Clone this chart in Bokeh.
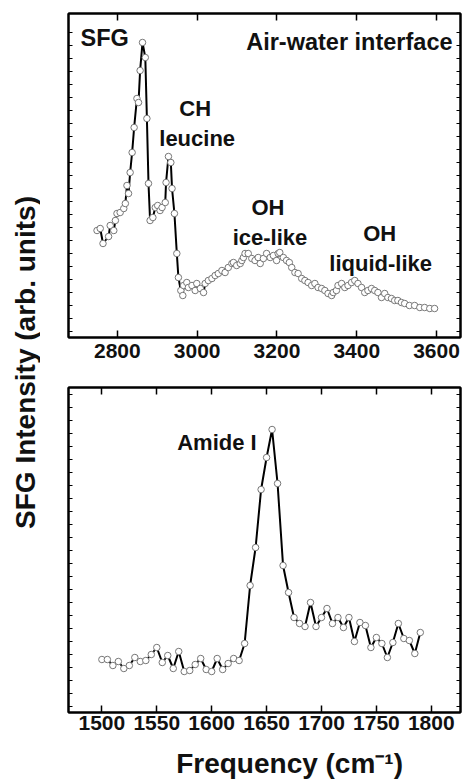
import math
from bokeh.plotting import figure
from bokeh.layouts import row, column
from bokeh.models import Range1d, LinearAxis, FixedTicker
from bokeh.core.properties import value
from bokeh.embed import file_html
from bokeh.resources import INLINE

FONT = "Liberation Sans"

# ---------------- data ----------------
top_freq = [2749, 2757, 2764, 2778, 2782, 2791, 2795, 2799, 2807, 2816, 2820, 2824, 2828,
            2832, 2837, 2842, 2849, 2853, 2857, 2863, 2870, 2874, 2878, 2882, 2889, 2895,
            2901, 2907, 2912, 2920, 2922, 2928, 2934, 2937, 2943, 2949, 2953, 2959, 2964,
            2966, 2974, 2978, 2987, 2995, 2999, 3008, 3016, 3020, 3028, 3037, 3045, 3053,
            3062, 3070, 3078, 3087, 3091, 3099, 3108, 3112, 3116, 3120, 3128, 3137, 3145,
            3153, 3158, 3166, 3174, 3183, 3191, 3199, 3203, 3207, 3216, 3224, 3231, 3237,
            3245, 3253, 3262, 3270, 3278, 3287, 3295, 3303, 3312, 3320, 3328, 3337, 3341,
            3349, 3353, 3362, 3370, 3378, 3387, 3395, 3403, 3412, 3420, 3428, 3437, 3445,
            3453, 3462, 3470, 3478, 3487, 3495, 3503, 3512, 3520, 3532, 3545, 3558, 3570,
            3583, 3595]
top_int = [107, 109, 94, 101, 112, 107, 117, 124, 125, 129, 134, 152, 144,
           165, 185, 210, 239, 235, 267, 295, 280, 219, 154, 117, 120, 130,
           132, 127, 130, 135, 155, 181, 175, 149, 124, 84, 60, 47, 42,
           52, 55, 50, 52, 47, 54, 49, 45, 54, 57, 59, 62, 64,
           67, 65, 70, 74, 75, 72, 74, 77, 80, 84, 84, 79, 77,
           80, 74, 79, 84, 80, 82, 77, 84, 85, 80, 77, 75, 70,
           65, 64, 59, 57, 55, 52, 54, 50, 49, 47, 44, 42, 45,
           47, 52, 54, 50, 52, 55, 57, 54, 50, 45, 47, 49, 47,
           45, 40, 44, 40, 39, 37, 37, 35, 34, 32, 32, 30, 30,
           29, 29]
top_ticks = [2800, 3000, 3200, 3400, 3600]

bot_freq = [1500, 1505, 1510, 1515, 1520, 1525, 1530, 1535, 1540, 1545, 1550, 1555,
            1560, 1565, 1570, 1575, 1580, 1585, 1590, 1595, 1600, 1605, 1610, 1615,
            1620, 1625, 1630, 1635, 1640, 1645, 1650, 1655, 1660, 1665, 1670, 1675,
            1680, 1685, 1690, 1695, 1700, 1705, 1710, 1715, 1720, 1725, 1730, 1735,
            1740, 1745, 1750, 1755, 1760, 1765, 1770, 1775, 1780, 1785, 1790]
bot_int = [53, 53, 47, 51, 44, 47, 55, 51, 52, 58, 65, 50,
           57, 44, 61, 41, 42, 48, 54, 43, 41, 54, 43, 49,
           54, 52, 69, 127, 165, 223, 255, 283, 229, 147, 120, 95,
           89, 86, 110, 86, 95, 104, 89, 95, 85, 95, 71, 90,
           87, 65, 75, 69, 55, 70, 89, 74, 72, 59, 80]
bot_ticks = [1500, 1550, 1600, 1650, 1700, 1750, 1800]

y_label = "SFG Intensity (arb. units)"
x_label = "Frequency (cm\u207b\u00b9)"


def style_x(ax, labels=True):
    ax.axis_line_width = 2
    ax.axis_line_color = "black"
    ax.major_tick_in = 7
    ax.major_tick_out = 0
    ax.major_tick_line_width = 1.5
    ax.minor_tick_in = 0
    ax.minor_tick_out = 0
    if labels:
        ax.major_label_text_font = FONT
        ax.major_label_text_font_style = "bold"
        ax.major_label_text_color = "#111111"
        ax.major_label_text_font_size = "21px"
    else:
        ax.major_label_text_color = None
        ax.major_label_text_font_size = "1px"
        ax.major_label_standoff = 0


def style_y(ax, minor):
    ax.ticker = FixedTicker(ticks=[], minor_ticks=minor)
    ax.axis_line_width = 2
    ax.axis_line_color = "black"
    ax.major_tick_in = 0
    ax.major_tick_out = 0
    ax.minor_tick_in = 4
    ax.minor_tick_out = 0
    ax.minor_tick_line_width = 1
    ax.major_label_text_color = None
    ax.major_label_text_font_size = "1px"
    ax.major_label_standoff = 0


def panel(freq, inten, xr, yr, ticks, height, btop, bbot, standoff):
    p = figure(width=422, height=height, x_range=Range1d(*xr), y_range=Range1d(*yr),
               output_backend="svg", toolbar_location=None)
    p.min_border_left = 28
    p.min_border_right = 2
    p.min_border_top = btop
    p.min_border_bottom = bbot
    p.xgrid.visible = False
    p.ygrid.visible = False
    p.outline_line_color = "black"
    p.outline_line_width = 2
    p.background_fill_color = "white"
    p.border_fill_color = "white"

    bottom_ax = p.below[0]
    bottom_ax.ticker = FixedTicker(ticks=ticks)
    style_x(bottom_ax)
    bottom_ax.major_label_standoff = standoff
    top_ax = LinearAxis(ticker=FixedTicker(ticks=ticks))
    style_x(top_ax, labels=False)
    p.add_layout(top_ax, "above")

    minor = [yr[0] + 6.5 + 13 * i for i in range(int((yr[1] - yr[0]) / 13))]
    style_y(p.left[0], minor)
    right_ax = LinearAxis()
    style_y(right_ax, minor)
    p.add_layout(right_ax, "right")

    p.line(freq, inten, line_color="black", line_width=2)
    p.scatter(freq, inten, marker="circle", size=6.5, fill_color="white",
              line_color="#777777", line_width=1)
    return p


def note(p, txt, x, y, size="22px", align="center", angle=0.0, color="#111111"):
    p.text(x=[x], y=[y], text=[txt], angle=angle, text_font=value(FONT),
           text_font_style="bold", text_font_size=size, text_align=align,
           text_baseline="middle", text_color=color)


def text_strip(width, height):
    f = figure(width=width, height=height, x_range=Range1d(0, width),
               y_range=Range1d(0, height), output_backend="svg",
               toolbar_location=None, x_axis_type=None, y_axis_type=None)
    f.min_border = 0
    f.outline_line_color = None
    f.xgrid.visible = False
    f.ygrid.visible = False
    return f


top = panel(top_freq, top_int, (2677.5, 3660), (0, 324), top_ticks, 384, 13, 47, 6)
note(top, "SFG", 2707.5, 300, size="23.5px", align="left")
note(top, "Air-water interface", 3640, 296, size="23.5px", align="right")
note(top, "CH", 2995, 229)
note(top, "leucine", 3000, 199)
note(top, "OH", 3177.5, 130)
note(top, "ice-like", 3182.5, 100)
note(top, "OH", 3457.5, 104)
note(top, "liquid-like", 3460, 74)

bot = panel(bot_freq, bot_int, (1469.6, 1826.6), (0, 325), bot_ticks, 358, 3, 30, 3)
note(bot, "Amide I", 1604.8, 270)

xlab = text_strip(422, 39)
note(xlab, x_label, 238, 18, size="28px")

ylab = text_strip(40, 781)
note(ylab, y_label, 25, 419, size="28px", angle=math.pi / 2)

layout = row(ylab, column(top, bot, xlab, spacing=0), spacing=0)

open("out.html", "w").write(file_html(layout, INLINE))
